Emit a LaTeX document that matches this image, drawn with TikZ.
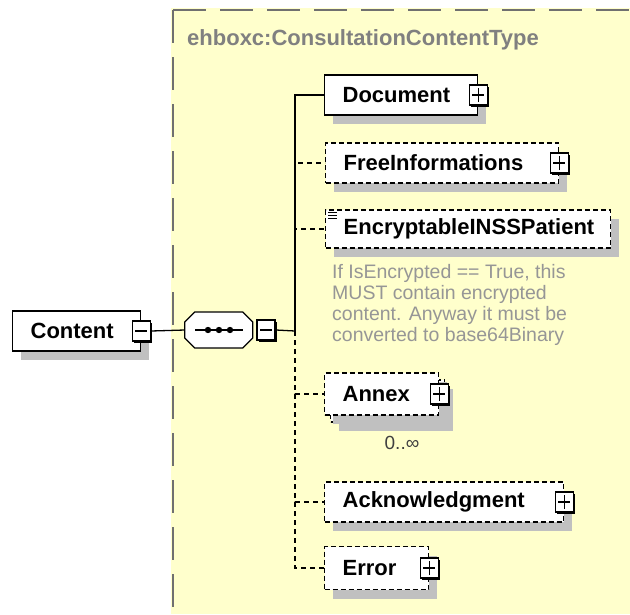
\documentclass[tikz,border=0pt]{standalone}
\usepackage{fontspec}
\setmainfont{Liberation Sans}
\usetikzlibrary{shadows}
\definecolor{schemabg}{RGB}{255,255,204}
\definecolor{framegray}{RGB}{112,112,112}
\definecolor{headgray}{RGB}{128,128,128}
\definecolor{notegray}{RGB}{150,150,150}
\definecolor{shadegray}{RGB}{192,192,192}

\begin{document}
\begin{tikzpicture}[x=1pt, y=-1pt,
  elem/.style={draw, line width=1.3pt, fill=white, anchor=west, minimum height=40pt,
    inner xsep=18pt, align=left, font=\fontsize{22}{26}\selectfont\bfseries,
    general shadow={fill=shadegray, shadow xshift=8pt, shadow yshift=-9pt}},
  optelem/.style={elem, dash pattern=on 5pt off 3pt},
  pmbox/.style={draw, line width=1.6pt, fill=white, minimum width=18pt, minimum height=20pt,
    inner sep=0pt, general shadow={fill=black, shadow xshift=2pt, shadow yshift=-2pt}},
  minusbox/.style={pmbox, path picture={
    \draw[line width=1.3pt] ([xshift=3pt]path picture bounding box.west) -- ([xshift=-3pt]path picture bounding box.east);}},
  plusbox/.style={pmbox, path picture={
    \draw[line width=1.3pt] ([xshift=3pt]path picture bounding box.west) -- ([xshift=-3pt]path picture bounding box.east)
      ([yshift=3pt]path picture bounding box.south) -- ([yshift=-3pt]path picture bounding box.north);}},
  conn/.style={line width=1.3pt},
  optconn/.style={conn, dash pattern=on 5pt off 4pt}]
  \useasboundingbox (0,0) rectangle (630,614);
  % complex type frame
  \fill[schemabg] (171,8) rectangle (630,614);
  \draw[framegray, line width=2.5pt, dash pattern=on 33pt off 14pt] (173,10) -- (630,10);
  \draw[framegray, line width=2.5pt, dash pattern=on 33pt off 14pt] (173,10) -- (173,614);
  \node[anchor=west, inner sep=0pt, text=headgray, font=\fontsize{22}{26}\selectfont\bfseries] (typename) at (187,40) {ehboxc:ConsultationContentType};

  % root element and sequence
  \node[elem, text width=92pt] (content) at (12,331) {Content};
  \node[minusbox] (contentminus) at (content.east) {};
  \node[minimum width=68pt, minimum height=37pt, inner sep=0pt] (seq) at (219,330) {};
  \fill[shadegray, shift={(8,9)}] (seq.west) -- ++(0,-8) -- ++(10,-10) -- ++(48,0) -- ++(10,10)
    -- ++(0,16) -- ++(-10,10) -- ++(-48,0) -- ++(-10,-10) -- cycle;
  \draw[line width=1.3pt, fill=white] (seq.west) -- ++(0,-8) -- ++(10,-10) -- ++(48,0) -- ++(10,10)
    -- ++(0,16) -- ++(-10,10) -- ++(-48,0) -- ++(-10,-10) -- cycle;
  \draw[line width=1.3pt] ([xshift=-24]seq.center) -- ([xshift=24]seq.center);
  \foreach \dx in {-11,0,11}
    \fill ([xshift=\dx]seq.center) circle (3.2pt);
  \node[minusbox] (seqminus) at ([xshift=13]seq.east) {};
  \coordinate (fork) at (295,331);

  % children
  \node[elem, text width=117pt] (document) at (324,95) {Document};
  \node[plusbox] (documentplus) at (document.east) {};
  \node[optelem, text width=197pt] (freeinfo) at (325,163) {FreeInformations};
  \node[plusbox] (freeinfoplus) at (freeinfo.east) {};
  \node[optelem, text width=249pt, minimum height=38pt] (encrypt) at (325,229) {EncryptableINSSPatient};
  \draw[line width=0.9pt] ([shift={(3,3)}]encrypt.north west) -- ++(9,0)
    ([shift={(3,6)}]encrypt.north west) -- ++(9,0)
    ([shift={(3,9)}]encrypt.north west) -- ++(9,0);
  \node[anchor=north west, inner sep=0pt, align=left, text=notegray, font=\fontsize{19.5}{21}\selectfont] (encryptnote) at (332,264)
    {If IsEncrypted == True, this\\MUST contain encrypted\\content. Anyway it must be\\converted to base64Binary};
  \node[optelem, text width=78pt, minimum height=42pt] (annexback) at (330,401) {};
  \node[optelem, text width=78pt, minimum height=42pt, general shadow={}] (annex) at (324,394) {Annex};
  \node[plusbox] (annexplus) at (annex.east) {};
  \node[font=\fontsize{19}{21}\selectfont, text=black!75, inner sep=0pt] (annexocc) at (402,443) {0..∞};
  \node[optelem, text width=203pt] (ack) at (324,502) {Acknowledgment};
  \node[plusbox] (ackplus) at (ack.east) {};
  \node[optelem, text width=68pt, minimum height=43pt] (error) at (324,568) {Error};
  \node[plusbox] (errorplus) at (error.east) {};

  % connectors
  \draw[conn] (contentminus.east) -- (seq.west);
  \draw[conn] (seqminus.east) -- (fork);
  \draw[conn] (fork) |- (document.west);
  \draw[optconn] (fork) |- (freeinfo.west);
  \draw[optconn] (fork) |- (encrypt.west);
  \draw[optconn] (fork) |- (annex.west);
  \draw[optconn] (fork) |- (ack.west);
  \draw[optconn] (fork) |- (error.west);
\end{tikzpicture}
\end{document}
